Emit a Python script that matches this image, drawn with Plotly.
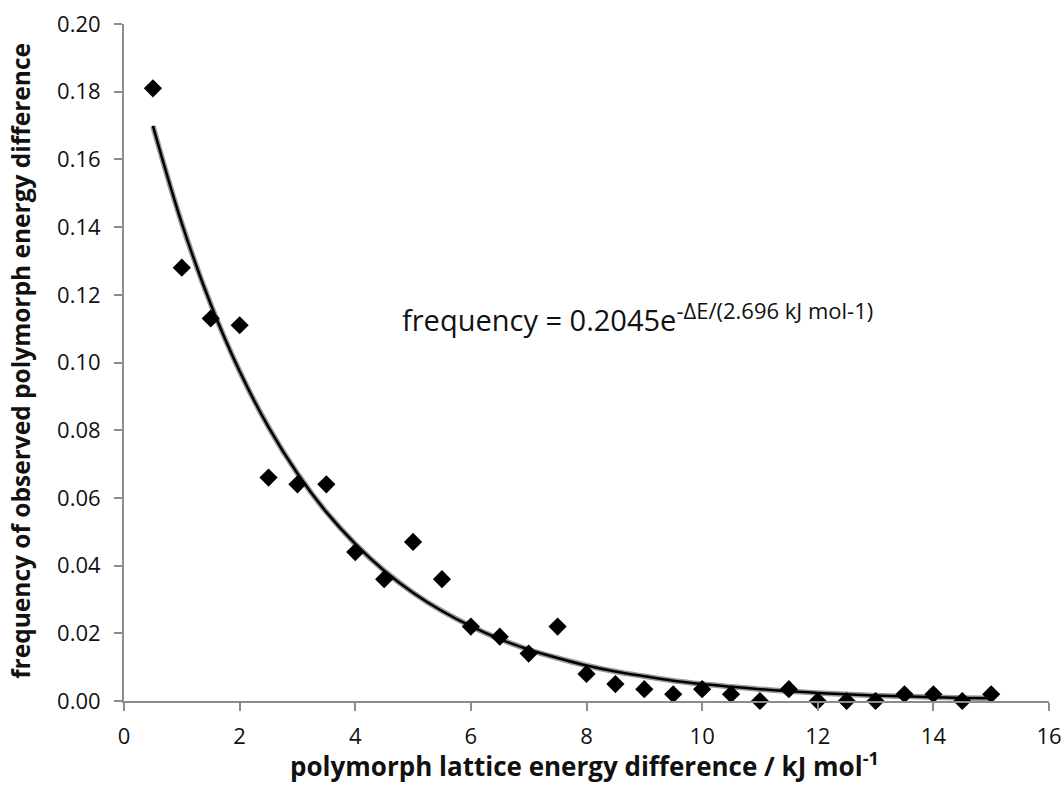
import plotly.graph_objects as go

# Observed data
energy_diff = [0.5, 1.0, 1.5, 2.0, 2.5, 3.0, 3.5, 4.0, 4.5, 5.0, 5.5, 6.0, 6.5, 7.0, 7.5,
               8.0, 8.5, 9.0, 9.5, 10.0, 10.5, 11.0, 11.5, 12.0, 12.5, 13.0, 13.5, 14.0, 14.5, 15.0]
frequency = [0.181, 0.128, 0.113, 0.111, 0.066, 0.064, 0.064, 0.044, 0.036, 0.047, 0.036,
             0.022, 0.019, 0.014, 0.022, 0.008, 0.005, 0.0035, 0.002, 0.0035, 0.002, 0.0,
             0.0035, 0.0, 0.0, 0.0, 0.002, 0.002, 0.0, 0.002]

# Fitted trend line
fit_x = energy_diff
fit_y = [0.1699, 0.1411, 0.1172, 0.0974, 0.0809, 0.0672, 0.0558, 0.0464, 0.0385, 0.0320,
         0.0266, 0.0221, 0.0183, 0.0152, 0.0127, 0.0105, 0.0087, 0.0073, 0.0060, 0.0050,
         0.0042, 0.0035, 0.0029, 0.0024, 0.0020, 0.0016, 0.0014, 0.0011, 0.0009, 0.0008]

x_ticks = [0, 2, 4, 6, 8, 10, 12, 14, 16]
y_ticks = [0.00, 0.02, 0.04, 0.06, 0.08, 0.10, 0.12, 0.14, 0.16, 0.18, 0.20]

FONT = "Open Sans"
TXT = "#111111"

fig = go.Figure()
fig.add_trace(go.Scatter(x=fit_x, y=fit_y, mode="lines", line=dict(color="#9a9a9a", width=5.5, shape="spline"),
                         hoverinfo="skip", showlegend=False))
fig.add_trace(go.Scatter(x=fit_x, y=fit_y, mode="lines", line=dict(color="black", width=2.5, shape="spline"),
                         showlegend=False))
fig.add_trace(go.Scatter(x=energy_diff, y=frequency, mode="markers",
                         marker=dict(symbol="diamond", color="black", size=14), showlegend=False,
                         cliponaxis=False))

fig.add_annotation(x=4.78, y=0.1135, xref="x", yref="y", xanchor="left", yanchor="middle",
                   text="frequency = 0.2045e<sup><span style='font-size:22px'>-ΔE/(2.696 kJ mol-1)</span></sup>",
                   showarrow=False, font=dict(family=FONT, size=29, color=TXT))

# Axis titles
fig.add_annotation(x=0.498, y=-0.094, xref="paper", yref="paper", xanchor="center", yanchor="middle",
                   text="<b>polymorph lattice energy difference / kJ mol<sup>-1</sup></b>",
                   showarrow=False, font=dict(family=FONT, size=26, color=TXT))
fig.add_annotation(x=-0.112, y=0.503, xref="paper", yref="paper", xanchor="center", yanchor="middle",
                   text="<b>frequency of observed polymorph energy difference</b>", textangle=-90,
                   showarrow=False, font=dict(family=FONT, size=24.5, color=TXT))

axis_common = dict(showgrid=False, zeroline=False, showline=True, linecolor="#8c8c8c", linewidth=2,
                   ticks="outside", tickcolor="#8c8c8c", tickwidth=2, ticklen=8, automargin=False,
                   tickfont=dict(family=FONT, size=22, color=TXT))

fig.update_xaxes(range=[0, 16], tickvals=x_ticks, ticktext=[str(v) for v in x_ticks],
                 ticklabelstandoff=7, **axis_common)
fig.update_yaxes(range=[0, 0.20], tickvals=y_ticks, ticktext=[f"{v:.2f}" for v in y_ticks],
                 ticklabelstandoff=9, **axis_common)

fig.update_layout(width=1064, height=792, margin=dict(l=124, r=15, t=24, b=91),
                  plot_bgcolor="white", paper_bgcolor="white")

fig.write_html("out.html", config={"displayModeBar": False},
               post_script="document.body.style.margin='0';document.body.style.overflow='hidden';")
